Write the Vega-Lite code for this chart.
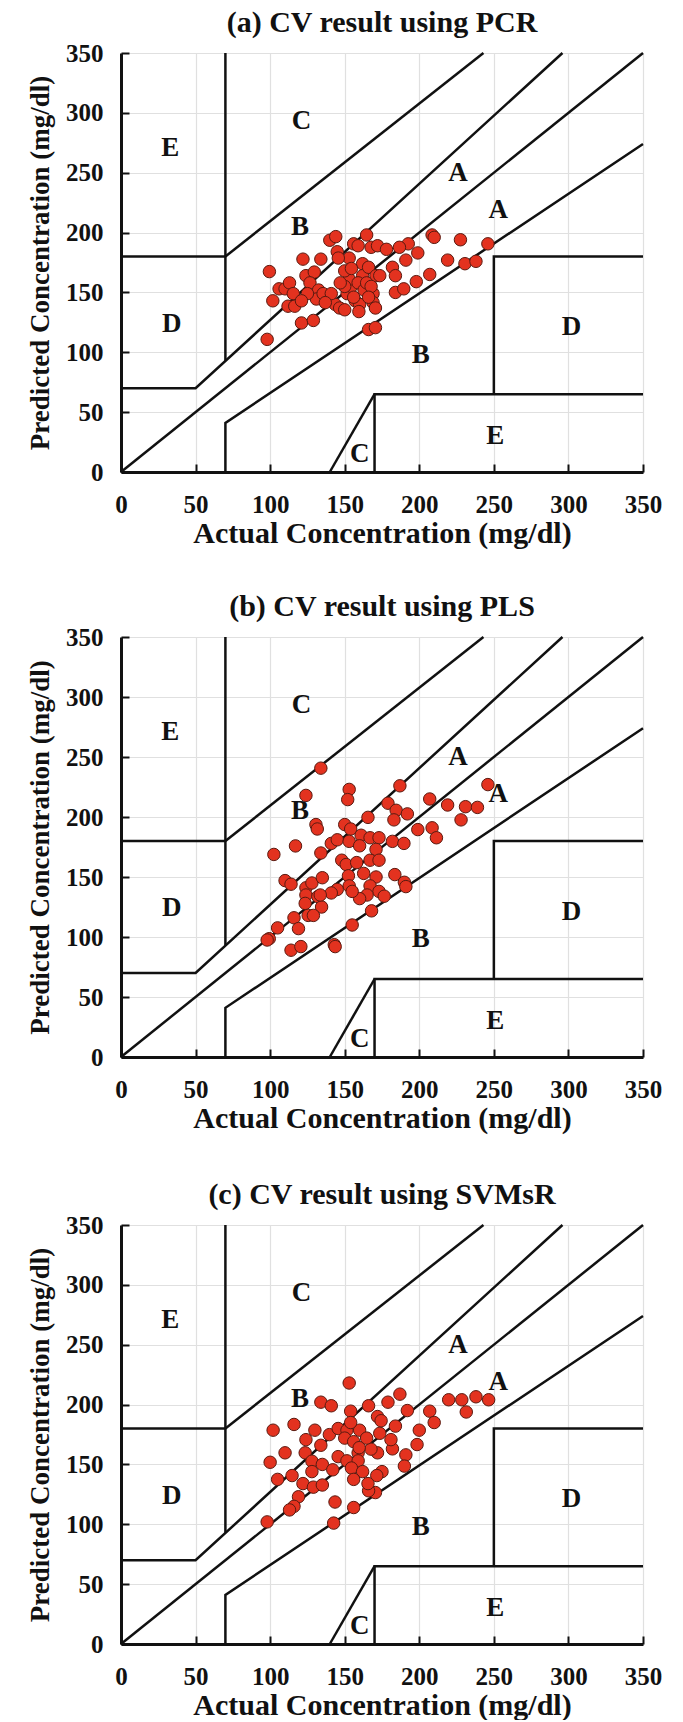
{
  "$schema": "https://vega.github.io/schema/vega-lite/v6.json",
  "background": "white",
  "padding": {"left": 26, "top": 7, "right": 6, "bottom": 0},
  "spacing": 43,
  "config": {
    "view": {"stroke": null},
    "font": "Liberation Serif",
    "axis": {
      "labelFont": "Liberation Serif", "labelFontWeight": "bold", "labelFontSize": 25, "labelColor": "#111",
      "labelFlush": false, "labelOverlap": false, "labelBound": false,
      "titleFont": "Liberation Serif", "titleFontWeight": "bold", "titleColor": "#111",
      "domainColor": "#111", "domainWidth": 3,
      "grid": true, "gridColor": "#e0e0e0", "gridWidth": 1.2,
      "ticks": true, "tickColor": "#111", "tickWidth": 2, "tickSize": -8
    },
    "axisX": {"labelPadding": 28, "titlePadding": 1, "titleFontSize": 30},
    "axisY": {"labelPadding": 26, "titlePadding": 11, "titleFontSize": 27},
    "title": {"font": "Liberation Serif", "fontWeight": "bold", "fontSize": 30, "color": "#111", "offset": 3.5}
  },
  "datasets": {
    "grid": [
      {"seg": 1, "ord": 1, "x": 0, "y": 180}, {"seg": 1, "ord": 2, "x": 70, "y": 180},
      {"seg": 2, "ord": 1, "x": 70, "y": 350}, {"seg": 2, "ord": 2, "x": 70, "y": 93},
      {"seg": 3, "ord": 1, "x": 0, "y": 70}, {"seg": 3, "ord": 2, "x": 50, "y": 70}, {"seg": 3, "ord": 3, "x": 296, "y": 350},
      {"seg": 4, "ord": 1, "x": 0, "y": 0}, {"seg": 4, "ord": 2, "x": 350, "y": 350},
      {"seg": 5, "ord": 1, "x": 70, "y": 0}, {"seg": 5, "ord": 2, "x": 70, "y": 41}, {"seg": 5, "ord": 3, "x": 350, "y": 274},
      {"seg": 6, "ord": 1, "x": 70, "y": 180}, {"seg": 6, "ord": 2, "x": 243, "y": 350},
      {"seg": 7, "ord": 1, "x": 140, "y": 0}, {"seg": 7, "ord": 2, "x": 170, "y": 65},
      {"seg": 8, "ord": 1, "x": 170, "y": 0}, {"seg": 8, "ord": 2, "x": 170, "y": 65}, {"seg": 8, "ord": 3, "x": 350, "y": 65},
      {"seg": 9, "ord": 1, "x": 250, "y": 65}, {"seg": 9, "ord": 2, "x": 250, "y": 180}, {"seg": 9, "ord": 3, "x": 350, "y": 180}
    ],
    "zones": [
      {"label": "E", "x": 33, "y": 271}, {"label": "C", "x": 121, "y": 293},
      {"label": "A", "x": 226, "y": 250}, {"label": "A", "x": 253, "y": 219},
      {"label": "B", "x": 120, "y": 205}, {"label": "D", "x": 34, "y": 124},
      {"label": "D", "x": 302, "y": 121}, {"label": "B", "x": 201, "y": 98},
      {"label": "E", "x": 251, "y": 30}, {"label": "C", "x": 160, "y": 15}
    ],
    "points": [
      {"m": "PCR", "actual": 99.5, "predicted": 167.4}, {"m": "PCR", "actual": 101.8, "predicted": 143},
      {"m": "PCR", "actual": 98, "predicted": 110.8}, {"m": "PCR", "actual": 106, "predicted": 153},
      {"m": "PCR", "actual": 110, "predicted": 153}, {"m": "PCR", "actual": 113, "predicted": 158},
      {"m": "PCR", "actual": 112, "predicted": 138.5}, {"m": "PCR", "actual": 116.5, "predicted": 138.5},
      {"m": "PCR", "actual": 115.5, "predicted": 149}, {"m": "PCR", "actual": 121, "predicted": 124.5},
      {"m": "PCR", "actual": 129, "predicted": 126.6}, {"m": "PCR", "actual": 122, "predicted": 177.8},
      {"m": "PCR", "actual": 134, "predicted": 177.8}, {"m": "PCR", "actual": 124, "predicted": 164},
      {"m": "PCR", "actual": 129.6, "predicted": 167}, {"m": "PCR", "actual": 126.7, "predicted": 158},
      {"m": "PCR", "actual": 132.5, "predicted": 152}, {"m": "PCR", "actual": 131, "predicted": 144.5},
      {"m": "PCR", "actual": 135.5, "predicted": 149}, {"m": "PCR", "actual": 125, "predicted": 149},
      {"m": "PCR", "actual": 121, "predicted": 143}, {"m": "PCR", "actual": 140, "predicted": 193.6},
      {"m": "PCR", "actual": 144, "predicted": 196.6}, {"m": "PCR", "actual": 145, "predicted": 184},
      {"m": "PCR", "actual": 143.6, "predicted": 140}, {"m": "PCR", "actual": 146.6, "predicted": 137},
      {"m": "PCR", "actual": 150, "predicted": 135.5}, {"m": "PCR", "actual": 151.6, "predicted": 149},
      {"m": "PCR", "actual": 154.5, "predicted": 155}, {"m": "PCR", "actual": 153, "predicted": 161},
      {"m": "PCR", "actual": 150, "predicted": 168}, {"m": "PCR", "actual": 153, "predicted": 178.7},
      {"m": "PCR", "actual": 156, "predicted": 190.6}, {"m": "PCR", "actual": 159, "predicted": 189},
      {"m": "PCR", "actual": 164.7, "predicted": 198}, {"m": "PCR", "actual": 167.7, "predicted": 187.7},
      {"m": "PCR", "actual": 172, "predicted": 189}, {"m": "PCR", "actual": 162, "predicted": 174},
      {"m": "PCR", "actual": 162, "predicted": 164}, {"m": "PCR", "actual": 166, "predicted": 171},
      {"m": "PCR", "actual": 159, "predicted": 158}, {"m": "PCR", "actual": 163, "predicted": 152},
      {"m": "PCR", "actual": 157, "predicted": 143}, {"m": "PCR", "actual": 160, "predicted": 140},
      {"m": "PCR", "actual": 159.5, "predicted": 134}, {"m": "PCR", "actual": 169, "predicted": 149},
      {"m": "PCR", "actual": 169, "predicted": 141.5}, {"m": "PCR", "actual": 170.6, "predicted": 137},
      {"m": "PCR", "actual": 171, "predicted": 164}, {"m": "PCR", "actual": 173.5, "predicted": 164},
      {"m": "PCR", "actual": 166, "predicted": 119}, {"m": "PCR", "actual": 170.6, "predicted": 120.6},
      {"m": "PCR", "actual": 178, "predicted": 186}, {"m": "PCR", "actual": 182, "predicted": 171},
      {"m": "PCR", "actual": 184, "predicted": 164}, {"m": "PCR", "actual": 184, "predicted": 150},
      {"m": "PCR", "actual": 189.6, "predicted": 153}, {"m": "PCR", "actual": 191, "predicted": 177},
      {"m": "PCR", "actual": 192.6, "predicted": 190.6}, {"m": "PCR", "actual": 186.7, "predicted": 187.7},
      {"m": "PCR", "actual": 199, "predicted": 183}, {"m": "PCR", "actual": 198, "predicted": 159},
      {"m": "PCR", "actual": 207, "predicted": 165}, {"m": "PCR", "actual": 208.6, "predicted": 198},
      {"m": "PCR", "actual": 210, "predicted": 196}, {"m": "PCR", "actual": 219, "predicted": 177},
      {"m": "PCR", "actual": 227.6, "predicted": 194}, {"m": "PCR", "actual": 230.6, "predicted": 174},
      {"m": "PCR", "actual": 238, "predicted": 176}, {"m": "PCR", "actual": 246, "predicted": 190.6},
      {"m": "PCR", "actual": 145.7, "predicted": 178.7}, {"m": "PCR", "actual": 150, "predicted": 155},
      {"m": "PCR", "actual": 156, "predicted": 146}, {"m": "PCR", "actual": 164.7, "predicted": 158},
      {"m": "PCR", "actual": 167.7, "predicted": 155}, {"m": "PCR", "actual": 166, "predicted": 146},
      {"m": "PCR", "actual": 147, "predicted": 158}, {"m": "PCR", "actual": 154.5, "predicted": 170},
      {"m": "PCR", "actual": 141, "predicted": 149}, {"m": "PCR", "actual": 137, "predicted": 141.5},

      {"m": "PLS", "actual": 134, "predicted": 240.7}, {"m": "PLS", "actual": 124, "predicted": 218},
      {"m": "PLS", "actual": 153, "predicted": 223}, {"m": "PLS", "actual": 152, "predicted": 214.5},
      {"m": "PLS", "actual": 187, "predicted": 226}, {"m": "PLS", "actual": 246, "predicted": 227},
      {"m": "PLS", "actual": 207, "predicted": 215}, {"m": "PLS", "actual": 219, "predicted": 210},
      {"m": "PLS", "actual": 231, "predicted": 208.6}, {"m": "PLS", "actual": 239, "predicted": 208},
      {"m": "PLS", "actual": 228, "predicted": 197.6}, {"m": "PLS", "actual": 179, "predicted": 211.5},
      {"m": "PLS", "actual": 184.5, "predicted": 205.6}, {"m": "PLS", "actual": 192, "predicted": 202.6},
      {"m": "PLS", "actual": 183, "predicted": 197.6}, {"m": "PLS", "actual": 165.6, "predicted": 199.7},
      {"m": "PLS", "actual": 130.7, "predicted": 193.7}, {"m": "PLS", "actual": 131.6, "predicted": 190},
      {"m": "PLS", "actual": 199, "predicted": 189.5}, {"m": "PLS", "actual": 208.6, "predicted": 191},
      {"m": "PLS", "actual": 211.5, "predicted": 182.7}, {"m": "PLS", "actual": 182, "predicted": 179.7},
      {"m": "PLS", "actual": 189.7, "predicted": 178}, {"m": "PLS", "actual": 117, "predicted": 175.9},
      {"m": "PLS", "actual": 102.5, "predicted": 168.8}, {"m": "PLS", "actual": 134, "predicted": 170},
      {"m": "PLS", "actual": 141, "predicted": 178}, {"m": "PLS", "actual": 145, "predicted": 181},
      {"m": "PLS", "actual": 150, "predicted": 193.7}, {"m": "PLS", "actual": 154, "predicted": 190},
      {"m": "PLS", "actual": 153, "predicted": 179.7}, {"m": "PLS", "actual": 161, "predicted": 184.8},
      {"m": "PLS", "actual": 167, "predicted": 182.7}, {"m": "PLS", "actual": 173, "predicted": 182.7},
      {"m": "PLS", "actual": 171, "predicted": 173}, {"m": "PLS", "actual": 160, "predicted": 176},
      {"m": "PLS", "actual": 148, "predicted": 164}, {"m": "PLS", "actual": 151, "predicted": 160.4},
      {"m": "PLS", "actual": 158, "predicted": 162}, {"m": "PLS", "actual": 167, "predicted": 164},
      {"m": "PLS", "actual": 173, "predicted": 164}, {"m": "PLS", "actual": 162.7, "predicted": 153},
      {"m": "PLS", "actual": 152.5, "predicted": 151}, {"m": "PLS", "actual": 171, "predicted": 150},
      {"m": "PLS", "actual": 153, "predicted": 142.6}, {"m": "PLS", "actual": 167, "predicted": 142.6},
      {"m": "PLS", "actual": 173, "predicted": 138}, {"m": "PLS", "actual": 176.5, "predicted": 134},
      {"m": "PLS", "actual": 165, "predicted": 135}, {"m": "PLS", "actual": 160, "predicted": 132},
      {"m": "PLS", "actual": 155, "predicted": 138}, {"m": "PLS", "actual": 145, "predicted": 139.6},
      {"m": "PLS", "actual": 141, "predicted": 136.7}, {"m": "PLS", "actual": 183.6, "predicted": 152},
      {"m": "PLS", "actual": 190, "predicted": 145.6}, {"m": "PLS", "actual": 191, "predicted": 142},
      {"m": "PLS", "actual": 168, "predicted": 121.8}, {"m": "PLS", "actual": 155, "predicted": 110},
      {"m": "PLS", "actual": 143, "predicted": 93.6}, {"m": "PLS", "actual": 143.6, "predicted": 92},
      {"m": "PLS", "actual": 110, "predicted": 147}, {"m": "PLS", "actual": 114, "predicted": 144},
      {"m": "PLS", "actual": 124, "predicted": 141}, {"m": "PLS", "actual": 128, "predicted": 145},
      {"m": "PLS", "actual": 135, "predicted": 149.4}, {"m": "PLS", "actual": 124, "predicted": 135},
      {"m": "PLS", "actual": 132, "predicted": 133.7}, {"m": "PLS", "actual": 123.5, "predicted": 128},
      {"m": "PLS", "actual": 134.5, "predicted": 125}, {"m": "PLS", "actual": 125.5, "predicted": 118},
      {"m": "PLS", "actual": 129, "predicted": 118}, {"m": "PLS", "actual": 116, "predicted": 116},
      {"m": "PLS", "actual": 119, "predicted": 107}, {"m": "PLS", "actual": 105, "predicted": 107.6},
      {"m": "PLS", "actual": 99.4, "predicted": 98.6}, {"m": "PLS", "actual": 98, "predicted": 97.5},
      {"m": "PLS", "actual": 114, "predicted": 89}, {"m": "PLS", "actual": 120.6, "predicted": 92},
      {"m": "PLS", "actual": 133.6, "predicted": 135},

      {"m": "SVMsR", "actual": 153, "predicted": 218}, {"m": "SVMsR", "actual": 134, "predicted": 202},
      {"m": "SVMsR", "actual": 141, "predicted": 199}, {"m": "SVMsR", "actual": 179, "predicted": 202},
      {"m": "SVMsR", "actual": 187, "predicted": 208.7}, {"m": "SVMsR", "actual": 192, "predicted": 195},
      {"m": "SVMsR", "actual": 207, "predicted": 194.5}, {"m": "SVMsR", "actual": 219.7, "predicted": 204},
      {"m": "SVMsR", "actual": 228.5, "predicted": 204}, {"m": "SVMsR", "actual": 238, "predicted": 206.5},
      {"m": "SVMsR", "actual": 246.5, "predicted": 204}, {"m": "SVMsR", "actual": 231.5, "predicted": 193.8},
      {"m": "SVMsR", "actual": 166, "predicted": 199}, {"m": "SVMsR", "actual": 172, "predicted": 190},
      {"m": "SVMsR", "actual": 154, "predicted": 194.5}, {"m": "SVMsR", "actual": 210, "predicted": 185},
      {"m": "SVMsR", "actual": 200, "predicted": 178.6}, {"m": "SVMsR", "actual": 184, "predicted": 182},
      {"m": "SVMsR", "actual": 198.5, "predicted": 166.6}, {"m": "SVMsR", "actual": 191, "predicted": 158},
      {"m": "SVMsR", "actual": 190, "predicted": 148.6}, {"m": "SVMsR", "actual": 182, "predicted": 163},
      {"m": "SVMsR", "actual": 181, "predicted": 170.7}, {"m": "SVMsR", "actual": 173.5, "predicted": 176},
      {"m": "SVMsR", "actual": 172, "predicted": 159.7}, {"m": "SVMsR", "actual": 167.6, "predicted": 162.8},
      {"m": "SVMsR", "actual": 175, "predicted": 144}, {"m": "SVMsR", "actual": 171.5, "predicted": 140.7},
      {"m": "SVMsR", "actual": 170.6, "predicted": 126.5}, {"m": "SVMsR", "actual": 166, "predicted": 128},
      {"m": "SVMsR", "actual": 165.6, "predicted": 134}, {"m": "SVMsR", "actual": 156, "predicted": 114},
      {"m": "SVMsR", "actual": 143.5, "predicted": 118.6}, {"m": "SVMsR", "actual": 142.6, "predicted": 101},
      {"m": "SVMsR", "actual": 98, "predicted": 102}, {"m": "SVMsR", "actual": 100, "predicted": 151.8},
      {"m": "SVMsR", "actual": 102, "predicted": 178.6}, {"m": "SVMsR", "actual": 110, "predicted": 159.7},
      {"m": "SVMsR", "actual": 116, "predicted": 183.4}, {"m": "SVMsR", "actual": 105, "predicted": 137.5},
      {"m": "SVMsR", "actual": 114.7, "predicted": 140.7}, {"m": "SVMsR", "actual": 122, "predicted": 134},
      {"m": "SVMsR", "actual": 119, "predicted": 123}, {"m": "SVMsR", "actual": 116, "predicted": 115},
      {"m": "SVMsR", "actual": 113, "predicted": 112}, {"m": "SVMsR", "actual": 124, "predicted": 170.7},
      {"m": "SVMsR", "actual": 130, "predicted": 178.6}, {"m": "SVMsR", "actual": 134, "predicted": 166},
      {"m": "SVMsR", "actual": 123.5, "predicted": 159.7}, {"m": "SVMsR", "actual": 128, "predicted": 152.7},
      {"m": "SVMsR", "actual": 135, "predicted": 150}, {"m": "SVMsR", "actual": 128, "predicted": 144},
      {"m": "SVMsR", "actual": 129, "predicted": 131}, {"m": "SVMsR", "actual": 135, "predicted": 132.8},
      {"m": "SVMsR", "actual": 142, "predicted": 145.5}, {"m": "SVMsR", "actual": 145.6, "predicted": 156.5},
      {"m": "SVMsR", "actual": 139.7, "predicted": 174.9}, {"m": "SVMsR", "actual": 145.6, "predicted": 180},
      {"m": "SVMsR", "actual": 151.5, "predicted": 178.6}, {"m": "SVMsR", "actual": 150, "predicted": 172},
      {"m": "SVMsR", "actual": 156, "predicted": 169}, {"m": "SVMsR", "actual": 160, "predicted": 178.6},
      {"m": "SVMsR", "actual": 159, "predicted": 159.7}, {"m": "SVMsR", "actual": 151.5, "predicted": 153},
      {"m": "SVMsR", "actual": 159, "predicted": 153}, {"m": "SVMsR", "actual": 154.5, "predicted": 147},
      {"m": "SVMsR", "actual": 162, "predicted": 144}, {"m": "SVMsR", "actual": 156, "predicted": 137.5},
      {"m": "SVMsR", "actual": 159.7, "predicted": 164}, {"m": "SVMsR", "actual": 164.7, "predicted": 172},
      {"m": "SVMsR", "actual": 154, "predicted": 185}, {"m": "SVMsR", "actual": 174.4, "predicted": 186.5}
    ]
  },
  "vconcat": [
    {
      "title": {"text": "(a) CV result using PCR"},
      "width": 522, "height": 419,
      "layer": [
        {"data": {"name": "grid"}, "mark": {"type": "line", "color": "#111", "strokeWidth": 2.5},
         "encoding": {
           "x": {"field": "x", "type": "quantitative", "scale": {"domain": [0, 350], "nice": false}, "title": "Actual Concentration (mg/dl)", "axis": {"values": [0, 50, 100, 150, 200, 250, 300, 350], "grid": true}},
           "y": {"field": "y", "type": "quantitative", "scale": {"domain": [0, 350], "nice": false}, "title": "Predicted Concentration (mg/dl)", "axis": {"values": [0, 50, 100, 150, 200, 250, 300, 350], "grid": true}},
           "detail": {"field": "seg"}, "order": {"field": "ord"}}},
        {"data": {"name": "zones"}, "mark": {"type": "text", "font": "Liberation Serif", "fontWeight": "bold", "fontSize": 27, "color": "#111", "baseline": "middle"},
         "encoding": {"x": {"field": "x", "type": "quantitative"}, "y": {"field": "y", "type": "quantitative"}, "text": {"field": "label"}}},
        {"data": {"name": "points"}, "transform": [{"filter": "datum.m === 'PCR'"}],
         "mark": {"type": "circle", "size": 155, "fill": "#e3321f", "stroke": "#5a1a10", "strokeWidth": 1, "opacity": 1},
         "encoding": {"x": {"field": "actual", "type": "quantitative"}, "y": {"field": "predicted", "type": "quantitative"}}}
      ]
    },
    {
      "spacing": 46,
      "vconcat": [
        {
          "title": {"text": "(b) CV result using PLS"},
          "width": 522, "height": 420,
          "layer": [
            {"data": {"name": "grid"}, "mark": {"type": "line", "color": "#111", "strokeWidth": 2.5},
             "encoding": {
               "x": {"field": "x", "type": "quantitative", "scale": {"domain": [0, 350], "nice": false}, "title": "Actual Concentration (mg/dl)", "axis": {"values": [0, 50, 100, 150, 200, 250, 300, 350], "grid": true}},
               "y": {"field": "y", "type": "quantitative", "scale": {"domain": [0, 350], "nice": false}, "title": "Predicted Concentration (mg/dl)", "axis": {"values": [0, 50, 100, 150, 200, 250, 300, 350], "grid": true}},
               "detail": {"field": "seg"}, "order": {"field": "ord"}}},
            {"data": {"name": "zones"}, "mark": {"type": "text", "font": "Liberation Serif", "fontWeight": "bold", "fontSize": 27, "color": "#111", "baseline": "middle"},
             "encoding": {"x": {"field": "x", "type": "quantitative"}, "y": {"field": "y", "type": "quantitative"}, "text": {"field": "label"}}},
            {"data": {"name": "points"}, "transform": [{"filter": "datum.m === 'PLS'"}],
             "mark": {"type": "circle", "size": 155, "fill": "#e3321f", "stroke": "#5a1a10", "strokeWidth": 1, "opacity": 1},
             "encoding": {"x": {"field": "actual", "type": "quantitative"}, "y": {"field": "predicted", "type": "quantitative"}}}
          ]
        },
        {
          "title": {"text": "(c) CV result using SVMsR"},
          "width": 522, "height": 419,
          "layer": [
            {"data": {"name": "grid"}, "mark": {"type": "line", "color": "#111", "strokeWidth": 2.5},
             "encoding": {
               "x": {"field": "x", "type": "quantitative", "scale": {"domain": [0, 350], "nice": false}, "title": "Actual Concentration (mg/dl)", "axis": {"values": [0, 50, 100, 150, 200, 250, 300, 350], "grid": true}},
               "y": {"field": "y", "type": "quantitative", "scale": {"domain": [0, 350], "nice": false}, "title": "Predicted Concentration (mg/dl)", "axis": {"values": [0, 50, 100, 150, 200, 250, 300, 350], "grid": true}},
               "detail": {"field": "seg"}, "order": {"field": "ord"}}},
            {"data": {"name": "zones"}, "mark": {"type": "text", "font": "Liberation Serif", "fontWeight": "bold", "fontSize": 27, "color": "#111", "baseline": "middle"},
             "encoding": {"x": {"field": "x", "type": "quantitative"}, "y": {"field": "y", "type": "quantitative"}, "text": {"field": "label"}}},
            {"data": {"name": "points"}, "transform": [{"filter": "datum.m === 'SVMsR'"}],
             "mark": {"type": "circle", "size": 155, "fill": "#e3321f", "stroke": "#5a1a10", "strokeWidth": 1, "opacity": 1},
             "encoding": {"x": {"field": "actual", "type": "quantitative"}, "y": {"field": "predicted", "type": "quantitative"}}}
          ]
        }
      ]
    }
  ]
}
